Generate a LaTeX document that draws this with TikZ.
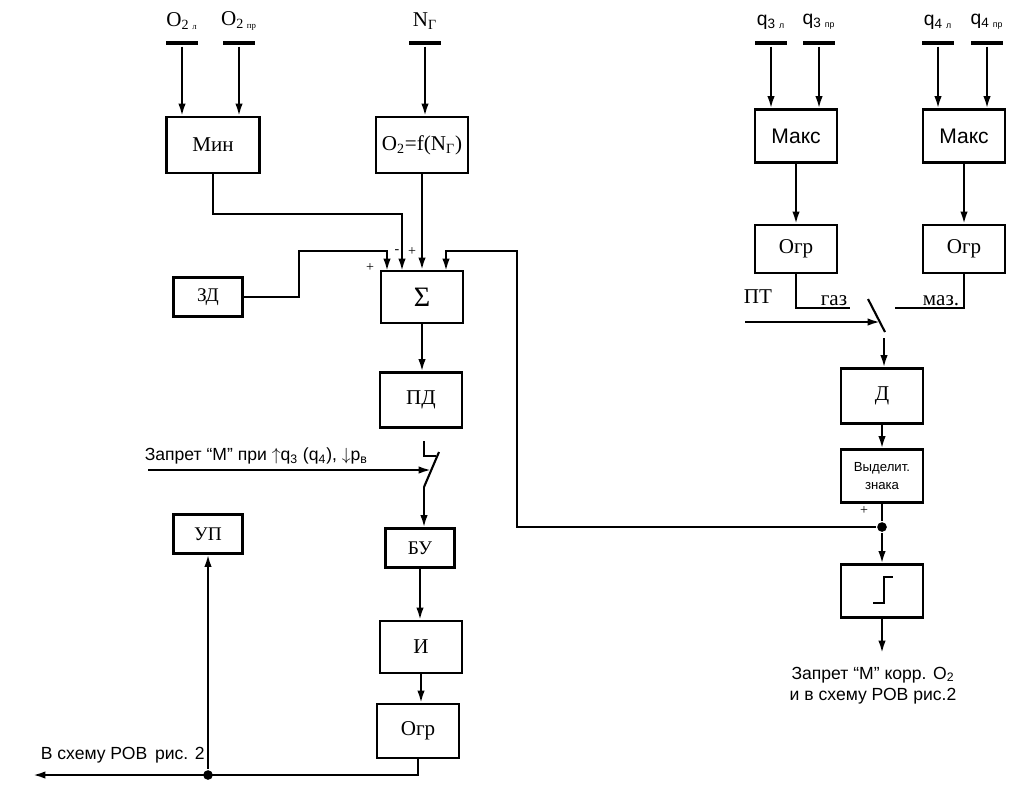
\documentclass[tikz,border=0pt]{standalone}
\usepackage{fontspec}
\setmainfont{Liberation Serif}
\setsansfont{Liberation Sans}
\usepackage{tikz}
\usetikzlibrary{calc,positioning,arrows.meta}

\begin{document}
\begin{tikzpicture}[x=0.02cm,y=-0.02cm,line width=1.2pt,
	arr/.style={-{Latex[length=7pt,width=4.2pt]}},
	blk/.style={draw,minimum width=1.64cm,minimum height=1.06cm,inner sep=0pt,font=\fontsize{12}{14}\selectfont},
	sblk/.style={draw,minimum width=1.38cm,minimum height=0.78cm,inner sep=0pt,font=\fontsize{11}{13}\selectfont},
	inbar/.style={fill,minimum width=0.65cm,minimum height=2.8pt,inner sep=0pt},
	lbl/.style={font=\fontsize{12}{14}\selectfont,inner sep=1pt},
	sfl/.style={font=\sffamily\fontsize{10}{12}\selectfont,inner sep=1pt},
	sgnl/.style={font=\fontsize{8}{9}\selectfont,inner sep=0pt},
	dot/.style={circle,fill,inner sep=0pt,minimum size=5.5pt}]
	\useasboundingbox (0,0) rectangle (1023,792);

	% left column
	\node[blk,minimum width=1.86cm,minimum height=1.12cm] (min) at (213,145) {Мин};
	\node[blk,minimum width=1.84cm,minimum height=1.12cm] (fn) at (422,145) {O\textsubscript{2}=f(N\textsubscript{Г})};
	\node[sblk] (zd) at (208,297) {ЗД};
	\node[blk,minimum height=1.04cm] (sum) at (422,297) {\fontsize{16}{16}\selectfont Σ};
	\node[blk,minimum height=1.1cm] (pd) at (421,400) {ПД};
	\node[sblk] (bu) at (420,548) {БУ};
	\node[blk,minimum height=1.04cm] (and) at (421,647) {И};
	\node[blk,minimum height=1.08cm] (lim) at (418,731) {Огр};
	\node[sblk] (up) at (208,534) {УП};

	\node[inbar] (o2l) at (182,43) {};
	\node[inbar] (o2r) at (239,43) {};
	\node[inbar] (ng) at (425,43) {};
	\node[lbl] (lo2l) at (182,21) {O\textsubscript{2 {\tiny л}}};
	\node[lbl] (lo2r) at (239,21) {O\textsubscript{2 {\tiny пр}}};
	\node[lbl] (lng) at (425,21) {N\textsubscript{Г}};
	\draw[arr] (o2l) -- (o2l |- min.north);
	\draw[arr] (o2r) -- (o2r |- min.north);
	\draw[arr] (ng) -- (ng |- fn.north);

	\coordinate (s1) at (387,271);
	\coordinate (s2) at (402,271);
	\coordinate (s4) at (446,271);
	\draw[arr] (zd.east) -| (299,251) -| (s1);
	\draw[arr] (min.south) -- ++(0,40) -| (s2);
	\draw[arr] (fn.south) -- (fn.south |- sum.north);
	\node[sgnl] (p1) at (370,268) {+};
	\node[sgnl] (m2) at (397,252) {-};
	\node[sgnl] (p3) at (412,252) {+};
	\draw[arr] (sum.south) -- (sum.south |- pd.north);

	% switch
	\draw (424,441) -- (424,456) -- (436,456);
	\coordinate (sw1) at (424,487);
	\draw (sw1) -- (439,452);
	\coordinate (zap) at (148,470);
	\draw[arr] (zap) -- (431,470);
	\node[sfl,anchor=south west] (tzap) at (142,467) {Запрет “М” при $\uparrow$q\textsubscript{3} (q\textsubscript{4}), $\downarrow$p\textsubscript{в}};
	\draw[arr] (sw1) -- (sw1 |- bu.north);
	\draw[arr] (bu.south) -- (bu.south |- and.north);
	\draw[arr] (and.south) -- (and.south |- lim.north);

	\coordinate (out) at (33,775);
	\draw[arr] (lim.south) |- (out);
	\node[dot] (d1) at (208,775) {};
	\draw[arr] (d1) -- (up.south);
	\node[sfl,anchor=south west] (tout) at (38,766) {В схему РОВ\, рис. 2};

	% right column
	\node[blk,font=\sffamily\fontsize{12}{14}\selectfont] (max3) at (796,136) {Макс};
	\node[blk,font=\sffamily\fontsize{12}{14}\selectfont] (max4) at (964,136) {Макс};
	\node[blk,minimum height=0.96cm] (lim3) at (796,249) {Огр};
	\node[blk,minimum height=0.96cm] (lim4) at (964,249) {Огр};
	\node[blk,minimum height=1.1cm] (dd) at (882,396) {Д};
	\node[blk,align=center,font=\sffamily\fontsize{7.5}{10}\selectfont] (sgn) at (882,476) {Выделит.\\знака};
	\node[blk] (stp) at (882,591) {};
	\draw ($(stp)+(-9,12)$) -- ++(11,0) -- ++(0,-26) -- ++(9,0);

	\node[inbar] (q3l) at (771,43) {};
	\node[inbar] (q3r) at (819,43) {};
	\node[inbar] (q4l) at (938,43) {};
	\node[inbar] (q4r) at (987,43) {};
	\node[sfl,font=\sffamily\fontsize{11}{13}\selectfont] (lq3l) at (771,22) {q\textsubscript{3 {\tiny л}}};
	\node[sfl,font=\sffamily\fontsize{11}{13}\selectfont] (lq3r) at (819,22) {q\textsubscript{3 {\tiny пр}}};
	\node[sfl,font=\sffamily\fontsize{11}{13}\selectfont] (lq4l) at (938,22) {q\textsubscript{4 {\tiny л}}};
	\node[sfl,font=\sffamily\fontsize{11}{13}\selectfont] (lq4r) at (987,22) {q\textsubscript{4 {\tiny пр}}};
	\draw[arr] (q3l) -- (q3l |- max3.north);
	\draw[arr] (q3r) -- (q3r |- max3.north);
	\draw[arr] (q4l) -- (q4l |- max4.north);
	\draw[arr] (q4r) -- (q4r |- max4.north);
	\draw[arr] (max3) -- (lim3);
	\draw[arr] (max4) -- (lim4);

	\draw (lim3.south) |- (850,308);
	\draw (lim4.south) |- (895,308);
	\node[lbl,anchor=south] (tgaz) at (834,309) {газ};
	\node[lbl,anchor=south] (tmaz) at (941,309) {маз.};
	\node[lbl] (tpt) at (758,297) {ПТ};
	\draw (868,299) -- (885,332);
	\coordinate (pt) at (745,322);
	\draw[arr] (pt) -- (880,322);
	\coordinate (sw2) at (884,338);
	\draw[arr] (sw2) -- (sw2 |- dd.north);
	\draw[arr] (dd) -- (sgn);
	\node[sgnl] (p4) at (864,511) {+};
	\node[dot] (d2) at (882,527) {};
	\draw (sgn) -- (d2);
	\draw[arr] (d2) -- (stp);
	\draw[arr] (d2) -| (517,251) -| (s4);

	\coordinate (res) at (882,653);
	\draw[arr] (stp) -- (res);
	\node[sfl,align=center,anchor=north] (tres) at (873,664) {Запрет “М” корр. O\textsubscript{2}\\и в схему РОВ рис.2};
\end{tikzpicture}
\end{document}
